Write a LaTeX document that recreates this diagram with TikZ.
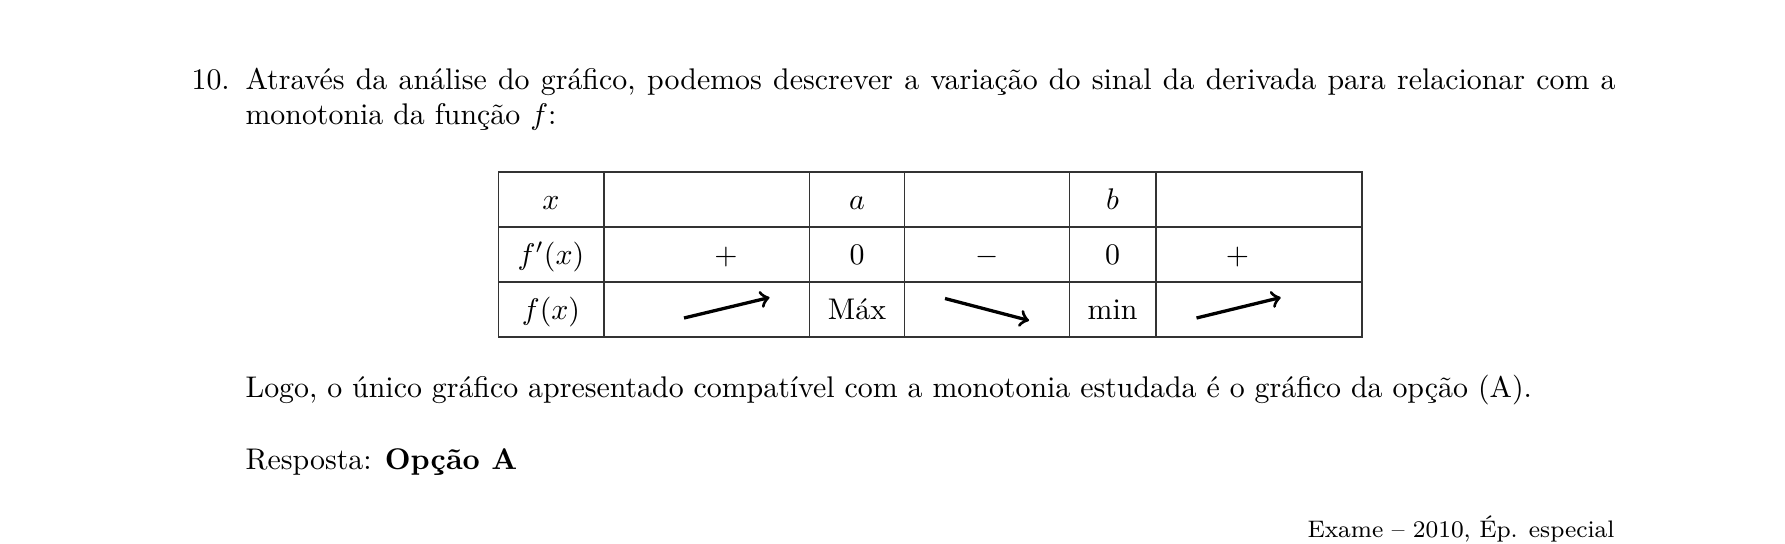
\documentclass[tikz,border=0pt]{standalone}
\usetikzlibrary{positioning}
\tikzset{
    %Define standard arrow tip
    >=to,
    %Define style for table text
    celula/.style={
           anchor=base,
           inner sep=0pt},
    %Define style for lines of text
    linha/.style={
           anchor=base west,
           inner sep=0pt},
    % Define arrow style
    seta/.style={
           ->,
           line width=1.1pt},
    % Define style for table rules
    grelha/.style={
           line width=0.4pt,
           black!80}
}

\begin{document}
\begin{tikzpicture}[x=0.33473pt, y=-0.33473pt]
\useasboundingbox (0,0) rectangle (1785,543);
\node [linha] (num) at (191,89) {10.};
\node [linha, text width=458.6pt, align=justify] (intro) at (245,89) {Através da análise do gráfico, podemos descrever a variação do sinal da derivada para relacionar com a\linebreak monotonia da função $f$:};
% table rules
\draw [grelha] (498.6,172) rectangle (1362,337);
\foreach \yy in {227,282}
    \draw [grelha] (498.6,\yy) -- (1362,\yy);
\foreach \xx in {604,809.5,904.5,1069.5,1156}
    \draw [grelha] (\xx,172) -- (\xx,337);
% table entries
\node [celula] (x) at (551,209.5) {$x$};
\node [celula] (a) at (857,209.5) {$a$};
\node [celula] (b) at (1112.5,209.5) {$b$};
\node [celula] (derivada) at (551,264.5) {$f'(x)$};
\node [celula] (mais1) at (726,264.5) {$+$};
\node [celula] (zeroa) at (857,264.5) {$0$};
\node [celula] (menos) at (987,264.5) {$-$};
\node [celula] (zerob) at (1112.5,264.5) {$0$};
\node [celula] (mais2) at (1237.5,264.5) {$+$};
\node [celula] (funcao) at (551,319.5) {$f(x)$};
\node [celula] (max) at (857,319.5) {Máx};
\node [celula] (min) at (1112.5,319.5) {min};
\coordinate (cresce1) at (684,318);
\coordinate (cresce1f) at (769.5,297.5);
\coordinate (decresce) at (945,298.5);
\coordinate (decrescef) at (1029,320.5);
\coordinate (cresce2) at (1196.5,318);
\coordinate (cresce2f) at (1280.7,297.5);
\draw [seta] (cresce1) -- (cresce1f);
\draw [seta] (decresce) -- (decrescef);
\draw [seta] (cresce2) -- (cresce2f);
% conclusion
\node [linha] (logo) at (245,397.5) {Logo, o único gráfico apresentado compatível com a monotonia estudada é o gráfico da opção (A).};
\node [linha] (resposta) at (245,469.5) {Resposta: \textbf{Opção A}};
\node [anchor=base east, inner sep=0pt] (fonte) at (1615,537) {\footnotesize Exame -- 2010, Ép. especial};
\end{tikzpicture}
\end{document}
